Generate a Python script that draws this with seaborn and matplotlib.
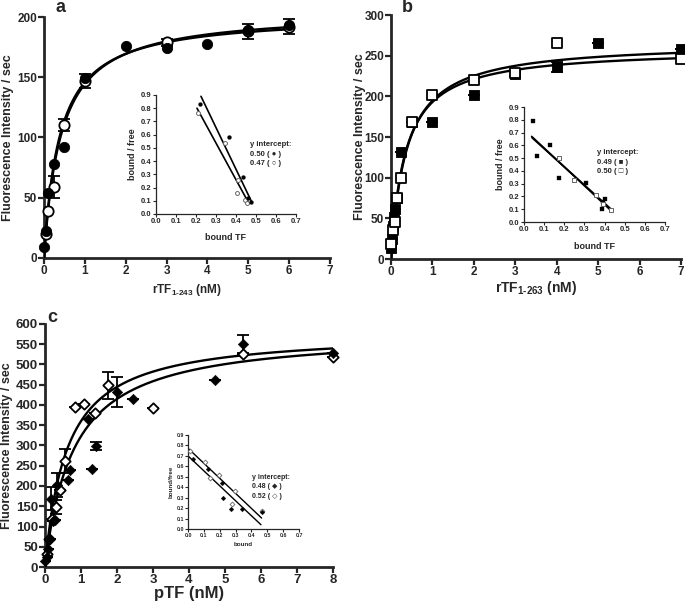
import numpy as np
import pandas as pd
import seaborn as sns
import matplotlib.pyplot as plt

sns.set_style("ticks")
plt.rcParams['font.family'] = ['Liberation Sans', 'DejaVu Sans']
plt.rcParams['font.weight'] = 'bold'
plt.rcParams['mathtext.fontset'] = 'custom'
plt.rcParams['mathtext.rm'] = 'Liberation Sans:bold'
plt.rcParams['mathtext.it'] = 'Liberation Sans:bold'
plt.rcParams['mathtext.bf'] = 'Liberation Sans:bold'
plt.rcParams['mathtext.default'] = 'rm'

# ---- panel a : rTF 1-243 ----
a_x_fill = [0, 0.05, 0.1, 0.25, 0.5, 1, 2, 3, 4, 5, 6]
a_y_fill = [9, 22, 54, 78, 92, 149, 176, 174, 178, 189, 193]
a_x_open = [0.05, 0.1, 0.25, 0.5, 1, 3, 5, 6]
a_y_open = [20, 39, 59, 110, 147, 179, 188, 192]
a_err_open = [0, 0, 9, 5, 6, 3, 6, 6]
a_fit = {'fill': (205, 0.42), 'open': (202, 0.385)}   # Bmax, Kd
a_in_x_fill = [0.22, 0.365, 0.433, 0.46, 0.475]
a_in_y_fill = [0.83, 0.585, 0.278, 0.12, 0.088]
a_in_x_open = [0.21, 0.345, 0.41, 0.407, 0.443, 0.453]
a_in_y_open = [0.76, 0.54, 0.26, 0.16, 0.107, 0.08]
a_in_line_fill = ([0.225, 0.478], [0.89, 0.093])
a_in_line_open = ([0.205, 0.46], [0.80, 0.093])

# ---- panel b : rTF 1-263 ----
b_x_fill = [0.01, 0.03, 0.05, 0.08, 0.1, 0.15, 0.25, 0.5, 1, 2, 3, 4, 5, 7]
b_y_fill = [13, 24, 40, 52, 62, 75, 132, 168, 168, 202, 228, 236, 266, 258]
b_x_open = [0.01, 0.05, 0.1, 0.15, 0.25, 0.5, 1, 2, 3, 4, 7]
b_y_open = [18, 36, 45, 75, 100, 168, 202, 220, 229, 266, 246]
b_err_fill = [0, 0, 0, 0, 0, 0, 0, 0, 0, 0, 3, 6, 0, 0]
b_fit = {'fill': (267, 0.372), 'open': (259, 0.342)}
b_in_x_fill = [0.046, 0.066, 0.129, 0.174, 0.308, 0.386, 0.40, 0.394]
b_in_y_fill = [0.79, 0.52, 0.60, 0.346, 0.307, 0.105, 0.178, 0.157]
b_in_x_open = [0.174, 0.25, 0.357, 0.394, 0.432]
b_in_y_open = [0.504, 0.328, 0.215, 0.144, 0.092]
b_in_line_fill = ([0.038, 0.425], [0.67, 0.10])
b_in_line_open = ([0.04, 0.435], [0.66, 0.097])

# ---- panel c : pTF ----
c_x_fill = [0, 0.05, 0.08, 0.14, 0.17, 0.21, 0.28, 0.34, 0.63, 0.7, 1.2, 1.3, 1.41, 1.99, 2.44, 4.71, 5.49, 8]
c_y_fill = [15, 25, 45, 70, 169, 114, 115, 202, 216, 239, 365, 243, 298, 431, 414, 462, 551, 529]
c_err_fill = [0, 0, 0, 0, 28, 0, 0, 30, 0, 0, 0, 0, 10, 37, 0, 0, 23, 0]
c_x_open = [0.05, 0.12, 0.2, 0.3, 0.42, 0.56, 0.83, 1.09, 1.4, 1.76, 3.01, 5.49, 8]
c_y_open = [33, 68, 118, 148, 190, 262, 394, 402, 379, 449, 393, 526, 518]
c_err_open = [0, 0, 0, 18, 0, 29, 0, 0, 0, 33, 0, 0, 0]
c_fit = {'fill': (581, 0.80), 'open': (581, 0.613)}
c_in_x_fill = [0.032, 0.127, 0.215, 0.22, 0.27, 0.338, 0.464]
c_in_y_fill = [0.67, 0.576, 0.44, 0.30, 0.19, 0.19, 0.16]
c_in_x_open = [0.01, 0.11, 0.14, 0.194, 0.295, 0.28, 0.464]
c_in_y_open = [0.75, 0.646, 0.49, 0.52, 0.36, 0.24, 0.175]
c_in_line_fill = ([0.004, 0.46], [0.694, 0.041])
c_in_line_open = ([0.004, 0.464], [0.767, 0.105])

fig = plt.figure(figsize=(6.85, 6.05), dpi=100)


def style_main(ax, xmax, ymax, ystep, ylabel_x, tick_fs):
    ax.set_xlim(0, xmax)
    ax.set_ylim(0, ymax)
    ax.set_xticks(range(0, xmax + 1))
    ax.set_yticks(np.arange(0, ymax + 1, ystep))
    sns.despine(ax=ax)
    for s in ['left', 'bottom']:
        ax.spines[s].set_linewidth(2)
    ax.tick_params(width=1.6, length=4, labelsize=tick_fs, pad=1)
    for lab in ax.get_xticklabels() + ax.get_yticklabels():
        lab.set_fontweight('bold')
    ax.set_ylabel('Fluorescence Intensity / sec', fontsize=9, fontweight='bold')
    ax.yaxis.set_label_coords(ylabel_x, 0.5)


def style_inset(ax, fs):
    ax.set_xlim(0, 0.7)
    ax.set_ylim(0, 0.9)
    ax.set_xticks(np.arange(0, 0.71, 0.1))
    ax.set_yticks(np.arange(0, 0.91, 0.1))
    ax.xaxis.set_major_formatter(plt.FormatStrFormatter('%.1f'))
    ax.yaxis.set_major_formatter(plt.FormatStrFormatter('%.1f'))
    ax.patch.set_alpha(0)
    sns.despine(ax=ax)
    for s in ['left', 'bottom']:
        ax.spines[s].set_linewidth(0.9)
    ax.tick_params(width=0.8, length=2, labelsize=fs, pad=1)


def binding_curve(ax, xmax, bmax, kd):
    xs = np.linspace(0, xmax, 300)
    sns.lineplot(x=xs, y=bmax * xs / (kd + xs), color='black', lw=1.7, ax=ax, zorder=3)


# ================= a =================
ax = fig.add_axes([0.0642, 0.5736, 0.4175, 0.3983])
for k in a_fit:
    binding_curve(ax, 6, *a_fit[k])
ax.errorbar(a_x_open, a_y_open, yerr=a_err_open, fmt='none', ecolor='black', elinewidth=1.3, capsize=4, capthick=1.3)
sns.scatterplot(x=a_x_open, y=a_y_open, marker='o', s=55, color='white', edgecolor='black', linewidth=1.3, ax=ax, zorder=4, clip_on=False)
sns.scatterplot(x=a_x_fill, y=a_y_fill, marker='o', s=55, color='black', edgecolor='black', ax=ax, zorder=5, clip_on=False)
style_main(ax, 7, 200, 50, -0.105, 8.5)
ax.set_xlabel(r'rTF$_{1\text{-}243}$ (nM)', fontsize=8.5, fontweight='bold', labelpad=4)
fig.text(0.0876, 0.988, 'a', fontsize=13, fontweight='bold', va='center', ha='center')

ins = fig.add_axes([0.2277, 0.6463, 0.2044, 0.1967])
sns.lineplot(x=a_in_line_fill[0], y=a_in_line_fill[1], color='black', lw=1.2, ax=ins)
sns.lineplot(x=a_in_line_open[0], y=a_in_line_open[1], color='black', lw=1.2, ax=ins)
sns.scatterplot(x=a_in_x_open, y=a_in_y_open, marker='o', s=8, color='white', edgecolor='0.4', linewidth=0.7, ax=ins, zorder=4)
sns.scatterplot(x=a_in_x_fill, y=a_in_y_fill, marker='o', s=8, color='black', edgecolor='black', ax=ins, zorder=5)
style_inset(ins, 5.5)
ins.set_xlabel('bound TF', fontsize=6.5, fontweight='bold', labelpad=6)
ins.set_ylabel('bound / free', fontsize=6.5, fontweight='bold', labelpad=3)
ins.text(0.47, 0.55, 'y intercept:\n0.50 ( \u25cf )\n0.47 ( \u25cb )', fontsize=5.5, fontweight='bold',
         transform=ins.transData, va='top', linespacing=1.5)

# ================= b =================
ax = fig.add_axes([0.5708, 0.5719, 0.4234, 0.4033])
for k in b_fit:
    binding_curve(ax, 7, *b_fit[k])
ax.errorbar(b_x_fill, b_y_fill, yerr=b_err_fill, fmt='none', ecolor='black', elinewidth=1.3, capsize=4, capthick=1.3)
sns.scatterplot(x=b_x_fill, y=b_y_fill, marker='s', s=60, color='black', edgecolor='black', ax=ax, zorder=4, clip_on=False)
sns.scatterplot(x=b_x_open, y=b_y_open, marker='s', s=60, color='white', edgecolor='black', linewidth=1.3, ax=ax, zorder=5, clip_on=False)
style_main(ax, 7, 300, 50, -0.086, 8.5)
ax.set_xlabel(r'rTF$_{1\text{-}263}$ (nM)', fontsize=10, fontweight='bold', labelpad=1)
fig.text(0.594, 0.988, 'b', fontsize=13, fontweight='bold', va='center', ha='center')

ins = fig.add_axes([0.765, 0.633, 0.2058, 0.190])
sns.lineplot(x=b_in_line_fill[0], y=b_in_line_fill[1], color='black', lw=1.3, ax=ins)
sns.lineplot(x=b_in_line_open[0], y=b_in_line_open[1], color='black', lw=1.3, ax=ins)
sns.scatterplot(x=b_in_x_fill, y=b_in_y_fill, marker='s', s=9, color='black', edgecolor='black', ax=ins, zorder=4)
sns.scatterplot(x=b_in_x_open, y=b_in_y_open, marker='s', s=9, color='white', edgecolor='0.4', linewidth=0.7, ax=ins, zorder=5)
style_inset(ins, 5.5)
ins.set_xlabel('bound TF', fontsize=6.5, fontweight='bold', labelpad=6)
ins.set_ylabel('bound / free', fontsize=6.5, fontweight='bold', labelpad=3)
ins.text(0.36, 0.57, 'y intercept:\n0.49 ( \u25a0 )\n0.50 ( \u25a1 )', fontsize=5.5, fontweight='bold',
         transform=ins.transData, va='top', linespacing=1.5)

# ================= c =================
ax = fig.add_axes([0.0657, 0.0628, 0.4204, 0.4017])
for k in c_fit:
    binding_curve(ax, 8, *c_fit[k])
ax.errorbar(c_x_fill, c_y_fill, yerr=c_err_fill, fmt='none', ecolor='black', elinewidth=1.3, capsize=4, capthick=1.3)
ax.errorbar(c_x_open, c_y_open, yerr=c_err_open, fmt='none', ecolor='black', elinewidth=1.3, capsize=4, capthick=1.3)
sns.scatterplot(x=c_x_open, y=c_y_open, marker='D', s=28, color='white', edgecolor='black', linewidth=1.3, ax=ax, zorder=4, clip_on=False)
sns.scatterplot(x=c_x_fill, y=c_y_fill, marker='D', s=28, color='black', edgecolor='black', ax=ax, zorder=5, clip_on=False)
style_main(ax, 8, 600, 50, -0.112, 9.5)
ax.set_xlabel('pTF (nM)', fontsize=12, fontweight='bold', labelpad=0)
fig.text(0.076, 0.476, 'c', fontsize=13, fontweight='bold', va='center', ha='center')

ins = fig.add_axes([0.2745, 0.1256, 0.162, 0.1554])
sns.lineplot(x=c_in_line_fill[0], y=c_in_line_fill[1], color='black', lw=1.0, ax=ins)
sns.lineplot(x=c_in_line_open[0], y=c_in_line_open[1], color='black', lw=1.0, ax=ins)
sns.scatterplot(x=c_in_x_open, y=c_in_y_open, marker='D', s=6, color='white', edgecolor='0.4', linewidth=0.6, ax=ins, zorder=4)
sns.scatterplot(x=c_in_x_fill, y=c_in_y_fill, marker='D', s=6, color='black', edgecolor='black', ax=ins, zorder=5)
style_inset(ins, 3.8)
ins.set_xlabel('bound', fontsize=4.5, fontweight='bold', labelpad=3)
ins.set_ylabel('bound/free', fontsize=4.5, fontweight='bold', labelpad=2)
ins.text(0.405, 0.53, 'y intercept:\n0.48 ( \u25c6 )\n0.52 ( \u25c7 )', fontsize=5, fontweight='bold',
         transform=ins.transData, va='top', linespacing=1.5)

fig.savefig('out.png', dpi=100)
